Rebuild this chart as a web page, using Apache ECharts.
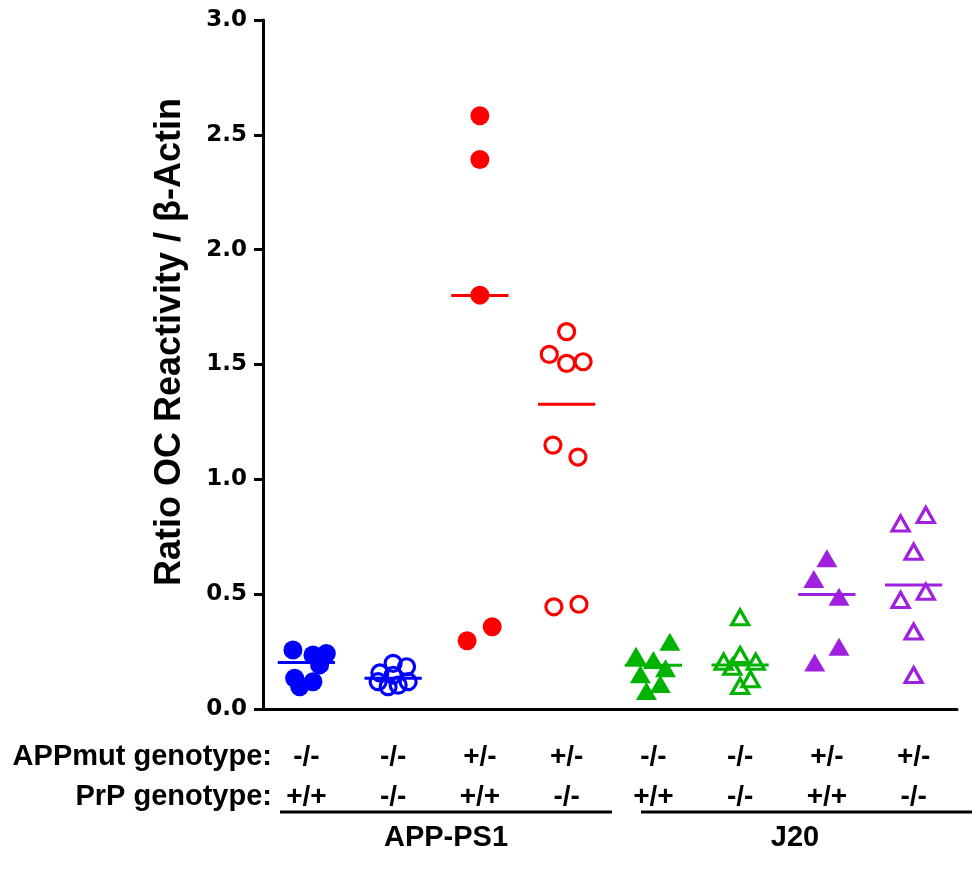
<!DOCTYPE html>
<html><head><meta charset="utf-8">
<script src="https://cdn.jsdelivr.net/npm/echarts@6/dist/echarts.min.js"></script>
<style>html,body{margin:0;padding:0;background:#fff}#c{width:972px;height:878px}</style>
</head><body><div id="c"></div>
<script>
// ---- data ----
const appmutLabels = ['-/-', '-/-', '+/-', '+/-', '-/-', '-/-', '+/-', '+/-'];
const prpLabels    = ['+/+', '-/-', '+/+', '-/-', '+/+', '-/-', '+/+', '-/-'];
const groupNames = ['APP-PS1', 'J20'];
const yTitle = 'Ratio OC Reactivity / β-Actin';

const g1Values = [0.257, 0.235, 0.242, 0.192, 0.134, 0.119, 0.097];
const g1Jitter = [-0.155, 0.076, 0.23, 0.153, -0.135, 0.076, -0.077];
const g2Values = [0.199, 0.157, 0.184, 0.147, 0.119, 0.097, 0.104, 0.119];
const g2Jitter = [0, -0.153, 0.155, 0, -0.173, -0.058, 0.058, 0.173];
const g3Values = [2.583, 2.393, 1.802, 0.297, 0.358];
const g3Jitter = [0, 0, 0, -0.147, 0.142];
const g4Values = [1.643, 1.544, 1.505, 1.512, 1.149, 1.097, 0.445, 0.456];
const g4Jitter = [0, -0.2, 0, 0.19, -0.158, 0.13, -0.147, 0.142];
const g5Values = [0.293, 0.232, 0.213, 0.177, 0.151, 0.109, 0.078];
const g5Jitter = [0.19, -0.2, 0, 0.14, -0.15, 0.08, -0.08];
const g6Values = [0.399, 0.235, 0.206, 0.206, 0.184, 0.13, 0.10];
const g6Jitter = [0, 0, -0.19, 0.18, -0.09, 0.12, 0];
const g7Values = [0.656, 0.566, 0.489, 0.271, 0.202];
const g7Jitter = [0, -0.15, 0.14, 0.14, -0.14];
const g8Values = [0.808, 0.845, 0.685, 0.511, 0.475, 0.337, 0.148];
const g8Jitter = [-0.15, 0.14, 0, 0.14, -0.15, 0, 0];
const medians = [0.203, 0.134, 1.80, 1.327, 0.19, 0.192, 0.499, 0.54];

// ---- styles ----
const BLUE = '#0000ff', RED = '#ff0000', GREEN = '#00b300', PURPLE = '#a020e0';
const groupStyles = [
  { color: BLUE, symbol: 'circle', filled: true },
  { color: BLUE, symbol: 'circle', filled: false },
  { color: RED, symbol: 'circle', filled: true },
  { color: RED, symbol: 'circle', filled: false },
  { color: GREEN, symbol: 'triangle', filled: true },
  { color: GREEN, symbol: 'triangle', filled: false },
  { color: PURPLE, symbol: 'triangle', filled: true },
  { color: PURPLE, symbol: 'triangle', filled: false }
];
const allValues = [g1Values, g2Values, g3Values, g4Values, g5Values, g6Values, g7Values, g8Values];
const allJitter = [g1Jitter, g2Jitter, g3Jitter, g4Jitter, g5Jitter, g6Jitter, g7Jitter, g8Jitter];

const LABEL_FONT = "'Liberation Sans', Arial, sans-serif";
const TICK_FONT = "'DejaVu Sans', sans-serif";

const series = allValues.map((vals, i) => {
  const st = groupStyles[i];
  const isTri = st.symbol === 'triangle';
  const size = st.filled ? (isTri ? [21, 18] : 19) : (isTri ? [17, 15] : 16);
  return {
    type: 'scatter',
    xAxisIndex: 1,
    symbol: st.symbol,
    symbolSize: size,
    data: vals.map((v, k) => [i + allJitter[i][k], v]),
    itemStyle: st.filled
      ? { color: st.color, opacity: 1 }
      : { color: 'rgba(0,0,0,0)', borderColor: st.color, borderWidth: 3.2, opacity: 1 },
    emphasis: { disabled: true },
    z: 3
  };
});

series.push({
  type: 'custom',
  xAxisIndex: 1,
  data: medians.map((m, i) => [i, m]),
  renderItem: function (params, api) {
    const i = api.value(0), m = api.value(1);
    const p1 = api.coord([i - 0.33, m]);
    const p2 = api.coord([i + 0.33, m]);
    return {
      type: 'line',
      shape: { x1: p1[0], y1: p1[1], x2: p2[0], y2: p2[1] },
      style: { stroke: groupStyles[i].color, lineWidth: 3 }
    };
  },
  z: 4
});

const chart = echarts.init(document.getElementById('c'), null, { renderer: 'canvas' });
chart.setOption({
  backgroundColor: '#fff',
  animation: false,
  grid: { left: 263, right: 15, top: 20, bottom: 169, containLabel: false },
  xAxis: [
    {
      type: 'category',
      data: appmutLabels.map((_, i) => String(i)),
      boundaryGap: true,
      axisLine: { onZero: false, lineStyle: { color: '#000', width: 3 } },
      axisTick: { alignWithLabel: true, length: 9, lineStyle: { color: '#000', width: 3 } },
      axisLabel: {
        margin: 28,
        interval: 0,
        formatter: function (v, idx) { return '{a|' + appmutLabels[idx] + '}\n{a|' + prpLabels[idx] + '}'; },
        rich: { a: { fontFamily: LABEL_FONT, fontWeight: 'bold', fontSize: 28, lineHeight: 40, color: '#000' } }
      },
      splitLine: { show: false }
    },
    { type: 'value', min: -0.5, max: 7.5, show: false }
  ],
  yAxis: {
    type: 'value', min: 0, max: 3, interval: 0.5,
    axisLine: { show: true, onZero: false, lineStyle: { color: '#000', width: 3 } },
    axisTick: { show: true, length: 9, lineStyle: { color: '#000', width: 3 } },
    axisLabel: { margin: 16, formatter: v => v.toFixed(1), fontFamily: TICK_FONT, fontWeight: 'bold', fontSize: 23, color: '#000' },
    splitLine: { show: false }
  },
  graphic: [
    { type: 'text', x: 170, y: 342, rotation: Math.PI / 2, style: { text: yTitle, align: 'center', verticalAlign: 'middle', font: "bold 36px " + LABEL_FONT, fill: '#000' } },
    { type: 'text', x: 272, y: 757, style: { text: 'APPmut genotype:', align: 'right', verticalAlign: 'middle', font: "bold 29px " + LABEL_FONT, fill: '#000' } },
    { type: 'text', x: 272, y: 797, style: { text: 'PrP genotype:', align: 'right', verticalAlign: 'middle', font: "bold 29px " + LABEL_FONT, fill: '#000' } },
    { type: 'line', shape: { x1: 280, y1: 812, x2: 612, y2: 812 }, style: { stroke: '#000', lineWidth: 3 } },
    { type: 'line', shape: { x1: 641, y1: 812, x2: 972, y2: 812 }, style: { stroke: '#000', lineWidth: 3 } },
    { type: 'text', x: 446, y: 838, style: { text: groupNames[0], align: 'center', verticalAlign: 'middle', font: "bold 29px " + LABEL_FONT, fill: '#000' } },
    { type: 'text', x: 795, y: 838, style: { text: groupNames[1], align: 'center', verticalAlign: 'middle', font: "bold 29px " + LABEL_FONT, fill: '#000' } }
  ],
  series: series
});
</script></body></html>
